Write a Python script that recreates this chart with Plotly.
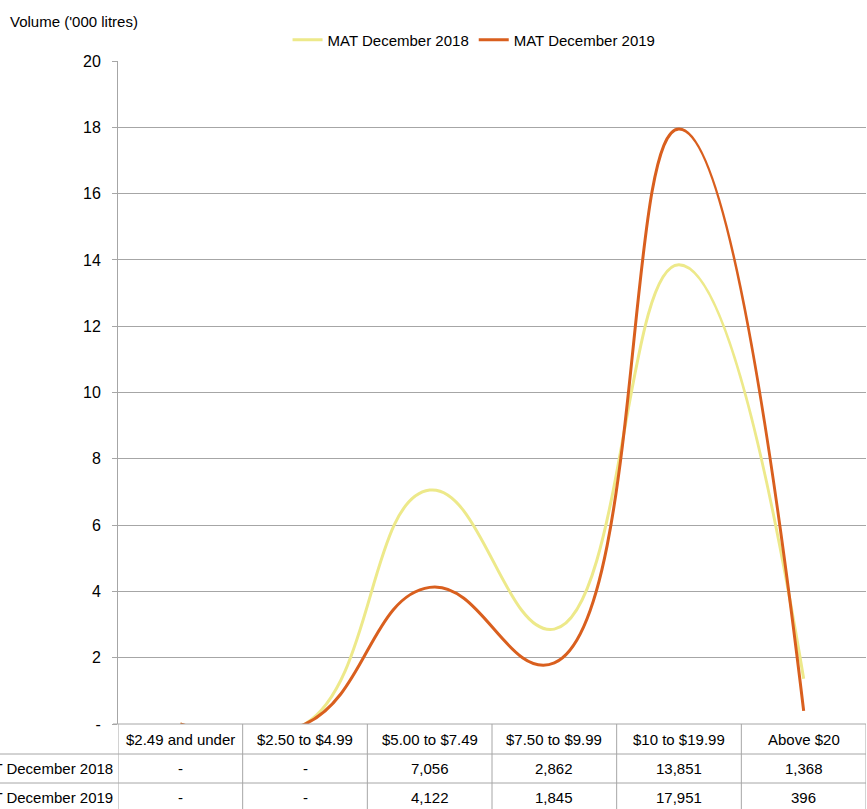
import plotly.graph_objects as go

# price bands and volumes (table shows litres x1000, chart shows '000 litres)
bands = ["$2.49 and under", "$2.50 to $4.99", "$5.00 to $7.49",
         "$7.50 to $9.99", "$10 to $19.99", "Above $20"]
vol_2018 = [0, 0, 7056, 2862, 13851, 1368]
vol_2019 = [0, 0, 4122, 1845, 17951, 396]
series_names = ["MAT December 2018", "MAT December 2019"]
y_ticks = [0, 2, 4, 6, 8, 10, 12, 14, 16, 18, 20]

W, H = 867, 809
L, R, T, B = 118, 1, 61, 85
FONT = "Liberation Sans, Arial, sans-serif"
GRID = "#a6a6a6"
colors = ["#ede98a", "#d95f1e"]

plot_h = H - T - B
plot_w = W - L - R


def py(px):
    # pixel row -> paper y
    return (H - B - px) / plot_h


def px_x(px):
    # pixel column -> paper x
    return (px - L) / plot_w


def fmt(v):
    return "-" if v == 0 else "{:,}".format(v)


fig = go.Figure()
for name, vals, col in zip(series_names, [vol_2018, vol_2019], colors):
    fig.add_trace(go.Scatter(x=list(range(len(bands))), y=[v / 1000 for v in vals],
                             mode="lines", name=name,
                             line=dict(color=col, width=3, shape="spline", smoothing=1.3)))

shapes = []
ann = []

# table vertical lines at category boundaries
for i in range(len(bands) + 1):
    shapes.append(dict(type="line", xref="x", yref="paper", x0=i - 0.5, x1=i - 0.5,
                       y0=0, y1=py(H + 5), line=dict(color=GRID, width=1)))
# table horizontal lines
for yy in [754, 783]:
    shapes.append(dict(type="line", xref="paper", yref="paper", x0=px_x(-5), x1=1,
                       y0=py(yy), y1=py(yy), line=dict(color=GRID, width=1)))
# x axis line with small tick to the left
shapes.append(dict(type="line", xref="paper", yref="paper", x0=px_x(113), x1=1,
                   y0=0, y1=0, line=dict(color=GRID, width=1)))

# category row
for i, b in enumerate(bands):
    ann.append(dict(x=i, y=py(739), xref="x", yref="paper", text=b, showarrow=False,
                    xanchor="center", yanchor="middle"))
# data rows
for name, vals, yy in zip(series_names, [vol_2018, vol_2019], [768, 797]):
    ann.append(dict(x=px_x(115), y=py(yy), xref="paper", yref="paper", text=name,
                    showarrow=False, xanchor="right", yanchor="middle"))
    for i, v in enumerate(vals):
        ann.append(dict(x=i, y=py(yy), xref="x", yref="paper", text=fmt(v),
                        showarrow=False, xanchor="center", yanchor="middle"))

ann.append(dict(x=px_x(8), y=py(22), xref="paper", yref="paper",
                text="Volume ('000 litres)", showarrow=False,
                xanchor="left", yanchor="middle"))

fig.update_layout(
    width=W, height=H,
    margin=dict(l=L, r=R, t=T, b=B),
    paper_bgcolor="white", plot_bgcolor="white",
    font=dict(family=FONT, size=15, color="#000000"),
    showlegend=True,
    legend=dict(orientation="h", x=0.476, xanchor="center", y=py(40), yanchor="middle",
                font=dict(size=15), itemwidth=30, bgcolor="rgba(0,0,0,0)"),
    xaxis=dict(range=[-0.5, len(bands) - 0.5], showticklabels=False, showgrid=False,
               zeroline=False, showline=False, ticks=""),
    yaxis=dict(range=[0, 20], tickvals=y_ticks,
               ticktext=["-"] + [str(t) for t in y_ticks[1:]],
               tickfont=dict(size=16),
               showgrid=True, gridcolor=GRID, gridwidth=1, zeroline=False,
               showline=True, linecolor=GRID, linewidth=1,
               ticks="outside", ticklen=5, tickcolor=GRID, ticklabelstandoff=8),
    shapes=shapes, annotations=ann,
)

# page body margin would shift the chart by 8px
fig.write_html("out.html", config={"displayModeBar": False},
               post_script="document.body.style.margin='0';")
